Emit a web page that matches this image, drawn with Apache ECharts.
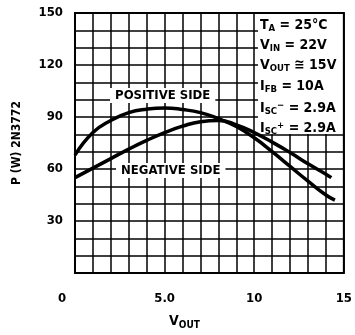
<!DOCTYPE html>
<html><head><meta charset="utf-8">
<script src="https://cdn.jsdelivr.net/npm/echarts@6/dist/echarts.min.js"></script>
<style>html,body{margin:0;padding:0;background:#fff}#c{width:355px;height:335px}</style>
</head><body><div id="c"></div>
<script>
const FONT = '"Liberation Sans Narrow","DejaVu Sans Condensed","Liberation Sans",sans-serif';
const xTickValues = [0, 5, 10, 15];
const xTickLabels = ['0', '5.0', '10', '15'];
const yTickValues = [30, 60, 90, 120, 150];
const positiveV = [0, 1, 2, 3, 4, 5, 6, 7, 8, 9, 10, 11, 12, 13, 14, 14.5];
const positiveP = [68, 81, 88, 92.5, 94.5, 95.2, 94.3, 92.5, 89, 84.5, 78, 70, 61.5, 53, 45, 42];
const negativeV = [0, 1, 2, 3, 4, 5, 6, 7, 8, 9, 10, 11, 12, 13, 14, 14.3];
const negativeP = [55, 60.5, 66, 71.5, 76.5, 81, 84.7, 87.3, 88, 85.5, 81, 75.5, 69.5, 63, 57, 55];

const chart = echarts.init(document.getElementById('c'));
const zip = (a, b) => a.map((v, i) => [v, b[i]]);
const main = {fontFamily: FONT, fontWeight: 'bold', fontSize: 14, color: '#000'};
const sub = {fontFamily: FONT, fontWeight: 'bold', fontSize: 9.5, color: '#000', padding: [7, 0, 0, 0]};
const sup = {fontFamily: FONT, fontWeight: 'bold', fontSize: 9.5, color: '#000', padding: [0, 0, 6, 0]};
const rich = {m: main, s: sub, p: sup};
const notes = [
  '{m|T}{s|A}{m| = 25°C}',
  '{m|V}{s|IN}{m| = 22V}',
  '{m|V}{s|OUT}{m| ≅ 15V}',
  '{m|I}{s|FB}{m| = 10A}',
  '{m|I}{s|SC}{p|−}{m| = 2.9A}',
  '{m|I}{s|SC}{p|+}{m| = 2.9A}'
];
const noteTops = [17, 37, 57, 78, 100, 120];
chart.setOption({
  animation: false,
  backgroundColor: '#fff',
  grid: {left: 75, right: 10, top: 13, bottom: 59, show: true, borderColor: '#000', borderWidth: 2, backgroundColor: 'transparent', z: 9},
  xAxis: {
    type: 'value', min: 0, max: 15, interval: 1,
    name: '{m|V}{s|OUT}', nameLocation: 'middle', nameGap: 40,
    nameTextStyle: {rich: {m: {...main, fontSize: 14}, s: {...sub, fontSize: 10}}, padding: [0, 50, 0, 0]},
    axisLine: {show: false},
    axisTick: {show: false},
    splitLine: {lineStyle: {color: '#000', width: 1.5}},
    axisLabel: {
      margin: 19,
      formatter: v => { const i = xTickValues.indexOf(v); if (i < 0) return ''; return i === 0 ? '{z|' + xTickLabels[i] + '}' : xTickLabels[i]; },
      fontFamily: FONT, fontWeight: 'bold', fontSize: 13, color: '#000',
      rich: {z: {...main, fontSize: 13, padding: [0, 26, 0, 0]}}
    }
  },
  yAxis: {
    type: 'value', min: 0, max: 150, interval: 10,
    name: 'P (W) 2N3772', nameLocation: 'middle', nameGap: 52, nameRotate: 90,
    nameTextStyle: {fontFamily: FONT, fontWeight: 'bold', fontSize: 12, color: '#000'},
    axisLine: {show: false},
    axisTick: {show: false},
    splitLine: {lineStyle: {color: '#000', width: 1.5}},
    axisLabel: {
      margin: 12,
      formatter: v => yTickValues.indexOf(v) >= 0 ? String(v) : '',
      fontFamily: FONT, fontWeight: 'bold', fontSize: 13, color: '#000'
    }
  },
  graphic: [
    {type: 'rect', shape: {x: 258, y: 14, width: 86, height: 120}, style: {fill: '#fff'}, z: 5},
    ...notes.map((t, i) => ({type: 'text', x: 260, y: noteTops[i], z: 6, style: {text: t, rich: rich}})),
    {type: 'text', x: 110, y: 88, z: 6, style: {text: ' POSITIVE SIDE ', ...main, fontSize: 13, backgroundColor: '#fff', padding: [1, 1]}},
    {type: 'text', x: 116, y: 163, z: 6, style: {text: ' NEGATIVE SIDE ', ...main, fontSize: 13, backgroundColor: '#fff', padding: [1, 1]}}
  ],
  series: [
    {type: 'line', data: zip(positiveV, positiveP), smooth: true, showSymbol: false, lineStyle: {color: '#000', width: 3.5}, z: 8},
    {type: 'line', data: zip(negativeV, negativeP), smooth: true, showSymbol: false, lineStyle: {color: '#000', width: 3.5}, z: 8}
  ]
});
</script></body></html>
